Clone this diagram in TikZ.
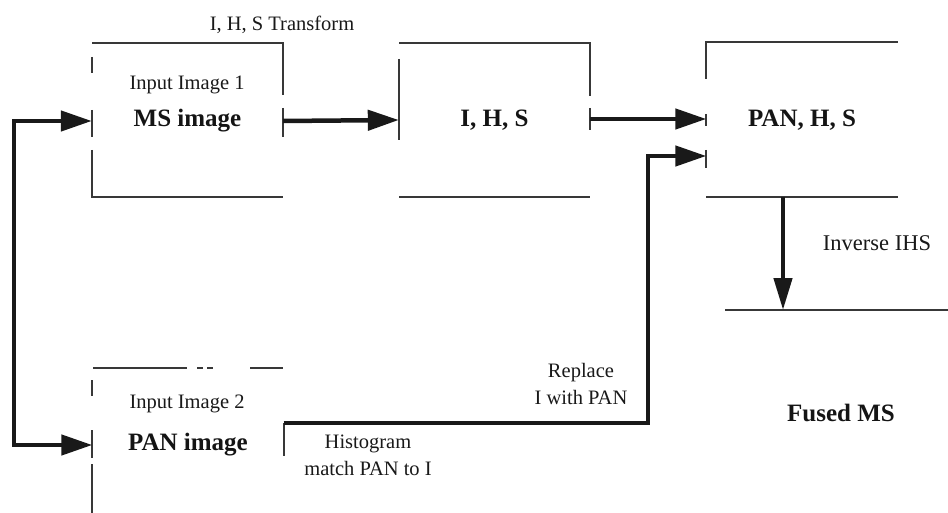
\documentclass[tikz,border=0pt]{standalone}
\usepackage{fontspec}
\setmainfont{Liberation Serif}
\usetikzlibrary{arrows.meta,calc}

\tikzset{
  edge/.style={line width=1.1pt, draw=black!78},
  flow/.style={line width=4.5pt, draw=black!90,
    -{Triangle[length=31pt,width=20pt]}, line join=miter},
  plainline/.style={line width=4.5pt, draw=black!90},
  stage/.style={minimum width=191pt, minimum height=154pt, inner sep=0pt,
    font=\fontsize{25}{30}\selectfont\bfseries, text=black!92},
  caption/.style={inner sep=0pt, font=\fontsize{20.5}{27}\selectfont,
    text=black!90, align=center},
  result/.style={inner sep=0pt, font=\fontsize{25}{30}\selectfont\bfseries,
    text=black!92}
}

\begin{document}
\begin{tikzpicture}[x=1pt, y=-1pt]
\useasboundingbox (0,0) rectangle (948,513);

% ---- processing stages (box areas carry the main labels) ----
\node[stage] (ms)   at (187.5,121) {MS image};
\node[stage] (ihs)  at (494.5,120) {I, H, S};
\node[stage] (pan)  at (802,120)   {PAN, H, S};
\node[stage] (pani) at (188,445)   {PAN image};

% ---- captions ----
\node[caption] (tr)   at (282,25)  {I, H, S Transform};
\node[caption] (in1)  at (187,85)  {Input Image 1};
\node[caption] (in2)  at (187,404) {Input Image 2};
\node[caption] (hist) at (368,455) {Histogram\\match PAN to I};
\node[caption] (repl) at (581,384) {Replace\\I with PAN};
\node[caption, font=\fontsize{22.5}{27}\selectfont] (inv) at (877,243) {Inverse IHS};
\node[result] (fused) at (841,413) {Fused MS};

% ---- broken outlines of the stages ----
% MS image
\draw[edge] (92,43) -- (283,43) -- (283,95);
\draw[edge] (283,108) -- (283,137);
\draw[edge] (92,57) -- (92,73);
\draw[edge] (92,110) -- (92,137);
\draw[edge] (92,150) -- (92,197) -- (283,197);
% I, H, S
\draw[edge] (399,43) -- (590,43) -- (590,96);
\draw[edge] (590,108) -- (590,130);
\draw[edge] (399,59) -- (399,140);
\draw[edge] (399,197) -- (590,197);
% PAN, H, S
\draw[edge] (706,79) -- (706,42) -- (898,42);
\draw[edge] (706,114) -- (706,126);
\draw[edge] (706,150) -- (706,168);
\draw[edge] (706,197) -- (898,197);
% PAN image
\draw[edge] (93,368) -- (187,368);
\draw[edge] (197,368) -- (203,368);
\draw[edge] (207,368) -- (213,368);
\draw[edge] (250,368) -- (283,368);
\draw[edge] (92,380) -- (92,396);
\draw[edge] (92,430) -- (92,458);
\draw[edge] (92,464) -- (92,513);
\draw[edge] (284,423) -- (284,456);
% Fused MS
\coordinate (fusedtop) at (783,310);
\draw[edge] (725,310) -- (948,310);

% ---- connectors ----
\coordinate (bus) at (14,282);
\draw[flow] (bus) |- (ms.west);
\draw[flow] (bus) |- (pani.west);
\draw[flow] (ms.east) -- (ihs.west);
\draw[flow] ([yshift=1pt]ihs.east) -- ([yshift=1pt]pan.west);
\coordinate (turn) at (648,423);
\draw[flow] (pani.east |- turn) -- (turn) |- ([yshift=-36pt]pan.west);
\draw[flow, -{Triangle[length=32pt,width=18pt]}] ([xshift=-19pt]pan.south) -- (fusedtop);
\end{tikzpicture}
\end{document}
